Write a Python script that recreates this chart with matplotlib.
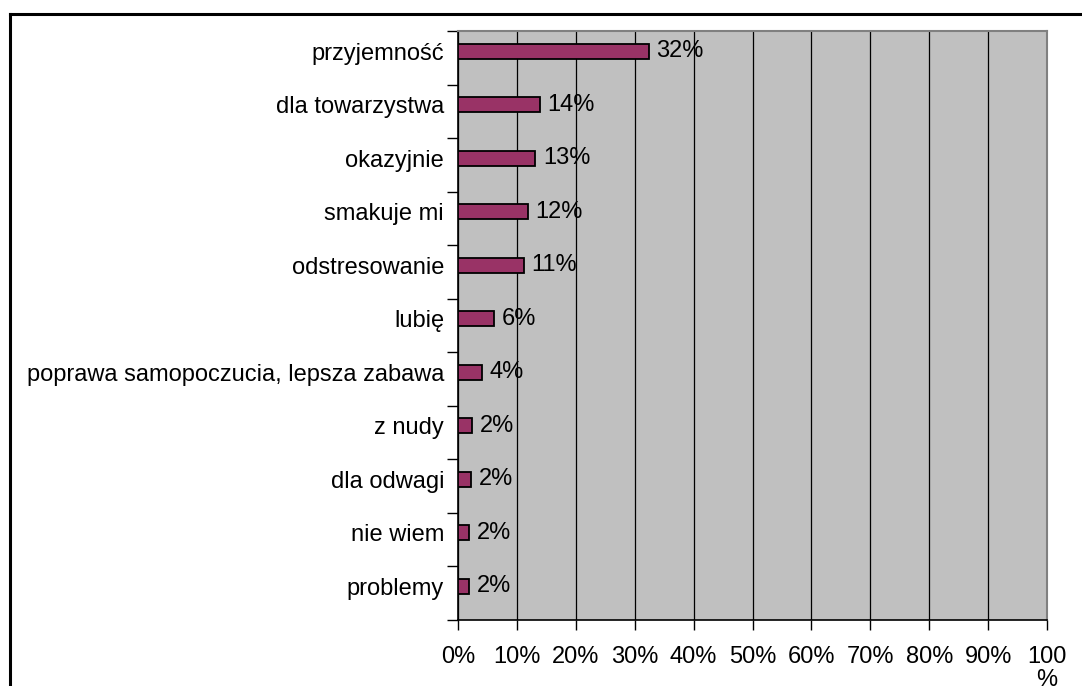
import matplotlib
matplotlib.use("Agg")
import matplotlib.pyplot as plt
from matplotlib.lines import Line2D
import numpy as np

categories = [
    "przyjemność",
    "dla towarzystwa",
    "okazyjnie",
    "smakuje mi",
    "odstresowanie",
    "lubię",
    "poprawa samopoczucia, lepsza zabawa",
    "z nudy",
    "dla odwagi",
    "nie wiem",
    "problemy",
]
values = [32.4, 13.9, 13.1, 11.8, 11.2, 6.1, 4.0, 2.4, 2.2, 1.9, 1.9]
xtick_values = list(range(0, 101, 10))
xtick_labels = [f"{v}%" for v in xtick_values[:-1]] + ["100\n%"]

plt.rcParams["font.family"] = ["Liberation Sans", "DejaVu Sans"]
FS = 17

W, H = 1082, 686
fig = plt.figure(figsize=(W / 100, H / 100), dpi=100)
fig.patch.set_facecolor("white")

# outer chart frame (left and top edges visible)
fig.add_artist(Line2D([10 / W, 10 / W], [1 - 14 / H, -0.1], color="black", lw=2.2,
                      transform=fig.transFigure))
fig.add_artist(Line2D([10 / W, 1.1], [1 - 14 / H, 1 - 14 / H], color="black", lw=2.2,
                      transform=fig.transFigure))

left, right, top, bottom = 458, 1047, 31, 620
ax = fig.add_axes([left / W, 1 - bottom / H, (right - left) / W, (bottom - top) / H])
ax.set_facecolor("#C0C0C0")

y = np.arange(len(categories))
ax.barh(y, values, height=0.28, color="#993366", edgecolor="black", linewidth=1.3, zorder=3)

for yi, v in zip(y, values):
    ax.text(v + 1.3, yi, f"{v:.0f}%", va="center", ha="left", fontsize=FS, zorder=4)

ax.set_xlim(0, 100)
ax.set_ylim(10.63, -0.375)

# vertical gridlines
ax.set_xticks(xtick_values)
ax.set_xticklabels(xtick_labels)
for lbl in ax.get_xticklabels():
    lbl.set_linespacing(1.05)
ax.xaxis.grid(True, color="black", linewidth=0.9, zorder=1)
ax.set_axisbelow(True)

# category labels at bar centres, tick marks at category boundaries
ax.set_yticks(y)
ax.set_yticklabels(categories, fontsize=FS)
ax.tick_params(axis="y", which="major", length=0, pad=10)
ax.set_yticks(np.arange(len(categories) + 1) - 0.375, minor=True)
ax.tick_params(axis="y", which="minor", length=8, width=1, direction="out", color="black")
ax.tick_params(axis="x", length=7, width=1, direction="out", pad=12, labelsize=FS)

for s in ["left", "bottom"]:
    ax.spines[s].set_color("black")
    ax.spines[s].set_linewidth(1.2)
for s in ["top", "right"]:
    ax.spines[s].set_color("#808080")
    ax.spines[s].set_linewidth(1.5)

fig.savefig("out.png", dpi=100, facecolor="white")
